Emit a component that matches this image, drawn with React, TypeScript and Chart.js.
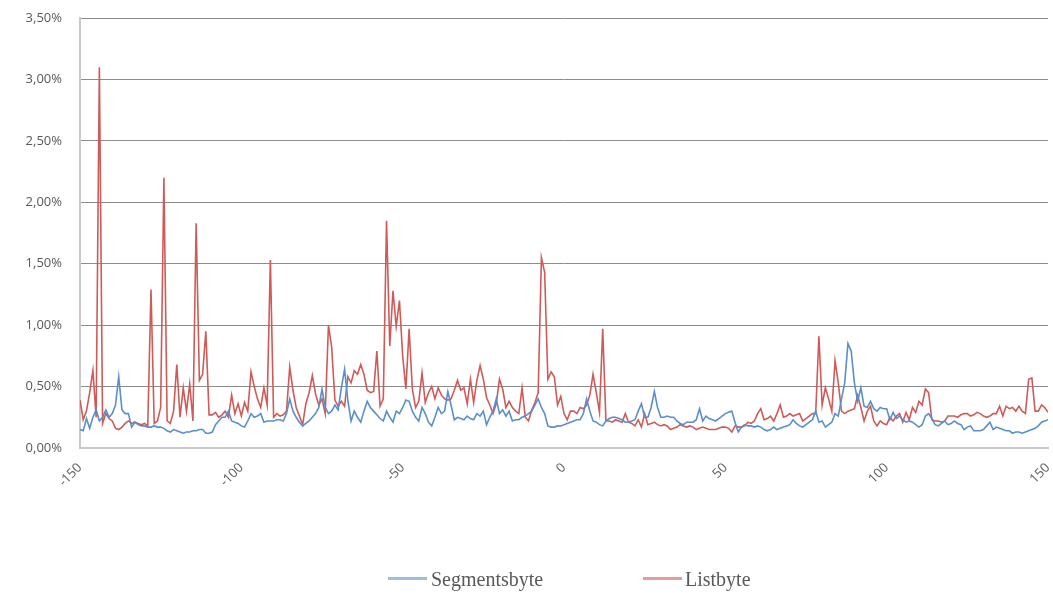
import React, { useEffect, useRef } from "react";
import { Chart, registerables } from "chart.js";

Chart.register(...registerables);

const X_START = -150;
const X_END = 150;
const X_TICK_STEP = 50;
const Y_MAX = 3.5;
const Y_STEP = 0.5;

const seriesNames = ["Segmentsbyte", "Listbyte"];
const seriesColors = ["#5A8FCB", "#CF5B59"];

// values in percent, one per position from -150 to 150
const segmentsbyte = [
  0.15, 0.14, 0.24, 0.16, 0.25, 0.31, 0.22, 0.25, 0.31, 0.25,
  0.28, 0.35, 0.58, 0.31, 0.28, 0.28, 0.17, 0.21, 0.19, 0.18,
  0.18, 0.17, 0.17, 0.18, 0.17, 0.17, 0.16, 0.14, 0.13, 0.15,
  0.14, 0.13, 0.12, 0.13, 0.13, 0.14, 0.14, 0.15, 0.15, 0.12,
  0.12, 0.13, 0.19, 0.22, 0.25, 0.25, 0.30, 0.22, 0.21, 0.20,
  0.18, 0.17, 0.22, 0.28, 0.25, 0.26, 0.28, 0.21, 0.22, 0.22,
  0.22, 0.23, 0.23, 0.22, 0.28, 0.40, 0.30, 0.25, 0.21, 0.18,
  0.20, 0.22, 0.25, 0.28, 0.33, 0.48, 0.33, 0.28, 0.30, 0.35,
  0.31, 0.49, 0.64, 0.39, 0.22, 0.30, 0.25, 0.21, 0.30, 0.38,
  0.33, 0.30, 0.27, 0.24, 0.22, 0.30, 0.25, 0.21, 0.30, 0.28,
  0.33, 0.39, 0.38, 0.30, 0.25, 0.22, 0.33, 0.28, 0.21, 0.18,
  0.25, 0.33, 0.28, 0.30, 0.46, 0.35, 0.23, 0.25, 0.24, 0.23,
  0.26, 0.24, 0.23, 0.28, 0.26, 0.30, 0.19, 0.25, 0.30, 0.40,
  0.28, 0.31, 0.26, 0.30, 0.22, 0.23, 0.23, 0.25, 0.26, 0.28,
  0.30, 0.35, 0.40, 0.33, 0.28, 0.18, 0.17, 0.17, 0.18, 0.18,
  0.19, 0.20, 0.21, 0.22, 0.23, 0.23, 0.28, 0.40, 0.30, 0.22,
  0.21, 0.19, 0.18, 0.22, 0.24, 0.25, 0.25, 0.24, 0.23, 0.21,
  0.21, 0.22, 0.23, 0.30, 0.36, 0.25, 0.25, 0.33, 0.46, 0.33,
  0.25, 0.25, 0.26, 0.25, 0.25, 0.22, 0.20, 0.19, 0.21, 0.21,
  0.21, 0.23, 0.32, 0.22, 0.26, 0.24, 0.23, 0.22, 0.24, 0.26,
  0.28, 0.29, 0.30, 0.21, 0.13, 0.17, 0.19, 0.18, 0.18, 0.17,
  0.18, 0.17, 0.15, 0.14, 0.15, 0.17, 0.15, 0.16, 0.17, 0.18,
  0.19, 0.23, 0.20, 0.18, 0.17, 0.19, 0.21, 0.23, 0.30, 0.21,
  0.22, 0.17, 0.19, 0.21, 0.28, 0.26, 0.40, 0.53, 0.85, 0.79,
  0.53, 0.38, 0.49, 0.34, 0.33, 0.38, 0.32, 0.30, 0.33, 0.32,
  0.32, 0.23, 0.29, 0.24, 0.26, 0.23, 0.21, 0.22, 0.21, 0.19,
  0.17, 0.19, 0.26, 0.28, 0.24, 0.19, 0.18, 0.20, 0.22, 0.19,
  0.20, 0.22, 0.20, 0.19, 0.15, 0.17, 0.18, 0.14, 0.14, 0.14,
  0.15, 0.18, 0.21, 0.15, 0.17, 0.16, 0.15, 0.14, 0.14, 0.12,
  0.13, 0.13, 0.12, 0.13, 0.14, 0.15, 0.16, 0.18, 0.21, 0.22,
  0.23,
];

const listbyte = [
  0.39, 0.23, 0.30, 0.45, 0.63, 0.25, 3.10, 0.20, 0.28, 0.24,
  0.22, 0.16, 0.15, 0.17, 0.20, 0.22, 0.20, 0.21, 0.20, 0.19,
  0.20, 0.18, 1.29, 0.20, 0.22, 0.33, 2.20, 0.22, 0.20, 0.30,
  0.68, 0.25, 0.49, 0.30, 0.52, 0.22, 1.83, 0.55, 0.60, 0.95,
  0.27, 0.27, 0.29, 0.25, 0.27, 0.30, 0.25, 0.43, 0.28, 0.36,
  0.26, 0.37, 0.30, 0.62, 0.50, 0.40, 0.33, 0.49, 0.35, 1.53,
  0.25, 0.28, 0.26, 0.27, 0.30, 0.66, 0.47, 0.33, 0.26, 0.19,
  0.36, 0.45, 0.59, 0.44, 0.35, 0.40, 0.28, 1.00, 0.82, 0.39,
  0.34, 0.38, 0.34, 0.58, 0.53, 0.63, 0.60, 0.68, 0.60, 0.47,
  0.45, 0.46, 0.79, 0.34, 0.40, 1.85, 0.83, 1.28, 0.99, 1.20,
  0.75, 0.48, 0.97, 0.48, 0.33, 0.38, 0.61, 0.37, 0.45, 0.50,
  0.40, 0.49, 0.43, 0.40, 0.39, 0.40, 0.47, 0.55, 0.47, 0.49,
  0.36, 0.56, 0.37, 0.55, 0.67, 0.56, 0.41, 0.35, 0.28, 0.36,
  0.56, 0.48, 0.33, 0.38, 0.33, 0.30, 0.28, 0.49, 0.25, 0.22,
  0.31, 0.37, 0.45, 1.55, 1.43, 0.56, 0.62, 0.58, 0.35, 0.42,
  0.28, 0.23, 0.30, 0.30, 0.28, 0.33, 0.32, 0.35, 0.43, 0.60,
  0.45, 0.29, 0.97, 0.22, 0.22, 0.21, 0.23, 0.22, 0.21, 0.28,
  0.21, 0.20, 0.18, 0.23, 0.17, 0.28, 0.19, 0.20, 0.21, 0.19,
  0.18, 0.19, 0.18, 0.15, 0.16, 0.17, 0.19, 0.18, 0.17, 0.18,
  0.17, 0.15, 0.16, 0.17, 0.16, 0.15, 0.15, 0.15, 0.16, 0.17,
  0.17, 0.16, 0.13, 0.18, 0.17, 0.17, 0.18, 0.21, 0.20, 0.22,
  0.28, 0.32, 0.23, 0.24, 0.26, 0.22, 0.28, 0.35, 0.25, 0.26,
  0.28, 0.26, 0.27, 0.28, 0.22, 0.24, 0.26, 0.28, 0.28, 0.91,
  0.35, 0.49, 0.40, 0.30, 0.71, 0.53, 0.30, 0.28, 0.30, 0.31,
  0.32, 0.43, 0.33, 0.22, 0.30, 0.34, 0.22, 0.18, 0.22, 0.20,
  0.19, 0.25, 0.22, 0.26, 0.28, 0.21, 0.29, 0.23, 0.33, 0.29,
  0.38, 0.35, 0.48, 0.45, 0.23, 0.22, 0.22, 0.21, 0.22, 0.26,
  0.26, 0.26, 0.25, 0.27, 0.28, 0.28, 0.26, 0.27, 0.29, 0.28,
  0.26, 0.25, 0.26, 0.28, 0.28, 0.34, 0.26, 0.34, 0.32, 0.33,
  0.30, 0.34, 0.30, 0.28, 0.56, 0.57, 0.30, 0.30, 0.35, 0.33,
  0.29,
];

const W = 1053;
const H = 593;

function toPoints(values: number[]) {
  return values.map((v, i) => ({ x: X_START + i, y: v }));
}

export default function App() {
  const canvasRef = useRef<HTMLCanvasElement | null>(null);

  useEffect(() => {
    const canvas = canvasRef.current;
    if (!canvas) return;
    const chart = new Chart(canvas, {
      type: "line",
      data: {
        datasets: [
          {
            label: seriesNames[0],
            data: toPoints(segmentsbyte),
            borderColor: seriesColors[0],
            backgroundColor: seriesColors[0],
            borderWidth: 1.6,
            pointRadius: 0,
            tension: 0,
          },
          {
            label: seriesNames[1],
            data: toPoints(listbyte),
            borderColor: seriesColors[1],
            backgroundColor: seriesColors[1],
            borderWidth: 1.6,
            pointRadius: 0,
            tension: 0,
          },
        ],
      },
      options: {
        responsive: false,
        animation: false,
        events: [],
        layout: { padding: { left: 0, right: 5, top: 18, bottom: 0 } },
        plugins: {
          legend: { display: false },
          tooltip: { enabled: false },
        },
        scales: {
          x: {
            type: "linear",
            min: X_START,
            max: X_END,
            afterFit: (scale: any) => {
              scale.height = H - 448;
              scale.paddingLeft = 0;
              scale.paddingRight = 0;
            },
            ticks: {
              stepSize: X_TICK_STEP,
              minRotation: 45,
              maxRotation: 45,
              padding: 12,
              color: "#595959",
              font: { family: "'Open Sans', sans-serif", size: 13 },
            },
            grid: { display: false, drawTicks: false },
            border: { display: true, color: "#c9c9c9", width: 2 },
          },
          y: {
            min: 0,
            max: Y_MAX,
            afterFit: (scale: any) => {
              scale.width = 80;
              scale.paddingTop = 0;
              scale.paddingBottom = 0;
            },
            ticks: {
              stepSize: Y_STEP,
              padding: 18,
              color: "#595959",
              font: { family: "'Open Sans', sans-serif", size: 13 },
              callback: (v: any) => Number(v).toFixed(2).replace(".", ",") + "%",
            },
            grid: { color: "#8c8c8c", lineWidth: 1, drawTicks: false },
            border: { display: true, color: "#c9c9c9", width: 2 },
          },
        },
      },
    });
    return () => chart.destroy();
  }, []);

  const legendText: React.CSSProperties = {
    position: "absolute",
    top: 567,
    fontFamily: "'Liberation Serif', serif",
    fontSize: 20,
    lineHeight: "24px",
    color: "#595959",
    whiteSpace: "nowrap",
  };
  const legendLine = (left: number, color: string): React.CSSProperties => ({
    position: "absolute",
    left,
    top: 577,
    width: 39,
    height: 3,
    background: color,
    opacity: 0.6,
  });

  return (
    <div style={{ position: "absolute", left: 0, top: 0, width: W, height: H, background: "#fff" }}>
      <canvas ref={canvasRef} width={W} height={H} style={{ display: "block" }} />
      <div style={legendLine(388, seriesColors[0])} />
      <div style={{ ...legendText, left: 431 }}>{seriesNames[0]}</div>
      <div style={legendLine(643, seriesColors[1])} />
      <div style={{ ...legendText, left: 685 }}>{seriesNames[1]}</div>
    </div>
  );
}
